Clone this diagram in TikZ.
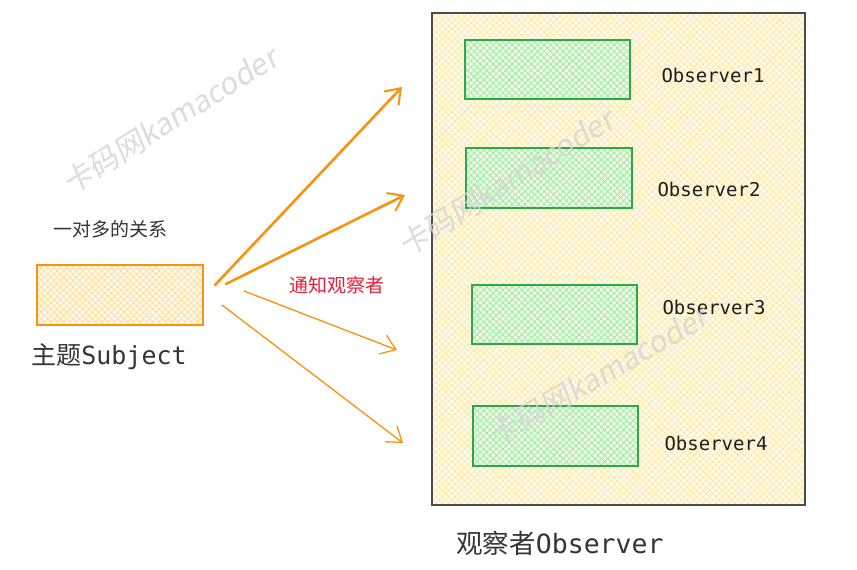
\documentclass[tikz,border=0pt]{standalone}
\usepackage{fontspec}
\newfontfamily\cjk{Noto Sans CJK SC}
\newfontfamily\mono{DejaVu Sans Mono}
\newfontfamily\wmfont[FakeSlant=0.15]{Noto Sans CJK SC}
\usetikzlibrary{arrows.meta,patterns.meta}
\definecolor{orangeline}{HTML}{F7930F}
\definecolor{subjfill}{HTML}{FFF9EA}
\definecolor{subjhatch}{HTML}{FFD98C}
\definecolor{contfill}{HTML}{FFFBEA}
\definecolor{conthatch}{HTML}{FCE59A}
\definecolor{greenline}{HTML}{2BA84A}
\definecolor{greenfill}{HTML}{EDFAE0}
\definecolor{greenhatch}{HTML}{8FE6A0}
\definecolor{textdark}{HTML}{1E1E1E}
\definecolor{notifyred}{HTML}{E8203A}
\definecolor{wmgray}{HTML}{D4D4D4}
\tikzset{
  hatch/.style 2 args={
    preaction={fill=#1},
    preaction={pattern={Lines[angle=45,distance=4.5pt,line width=0.6pt]},pattern color=#2},
    preaction={pattern={Lines[angle=-45,distance=4.5pt,line width=0.6pt]},pattern color=#2}},
  subjbox/.style={draw=orangeline,line width=1.6pt,hatch={subjfill}{subjhatch},
    inner sep=0pt,minimum width=166pt,minimum height=60pt},
  contbox/.style={draw=black!70,line width=1.2pt,hatch={contfill}{conthatch},
    inner sep=0pt,minimum width=373pt,minimum height=492pt},
  obsbox/.style={draw=greenline,line width=1.6pt,hatch={greenfill}{greenhatch},
    inner sep=0pt,minimum width=165pt,minimum height=59pt},
  obslabel/.style={font=\mono\fontsize{19}{22}\selectfont,text=textdark,inner sep=0pt},
  biglabel/.style={font=\fontsize{25}{29}\selectfont,text=textdark!90,inner sep=0pt},
  smalllabel/.style={font=\cjk\fontsize{19}{22}\selectfont,inner sep=0pt},
  thickarrow/.style={draw=orangeline,line width=2.6pt,line cap=round,
    -{Straight Barb[length=14pt,width=20pt,line width=2pt]}},
  thinarrow/.style={draw=orangeline,line width=1.3pt,line cap=round,
    -{Straight Barb[length=14pt,width=20pt,line width=1.3pt]}},
  watermark/.style={font=\wmfont\fontsize{30}{34}\selectfont,text=wmgray,opacity=0.8,inner sep=0pt}
}
\begin{document}
\begin{tikzpicture}[x=1pt,y=-1pt]
\useasboundingbox[fill=white] (0,0) rectangle (857,570);

% subject
\node[subjbox] (subj) at (120,295) {};
\node[smalllabel,text=textdark!90] (rel) at (110,229) {一对多的关系};
\node[biglabel] (subjlabel) at (109,357) {{\cjk 主题}{\mono Subject}};

% container
\node[contbox] (cont) at (618.5,259) {};
\node[obsbox] (o1) at (547.5,69.5) {};
\node[obsbox,minimum height=60pt,minimum width=166pt] (o2) at (549,178) {};
\node[obsbox] (o3) at (554.5,314.5) {};
\node[obsbox,minimum height=60pt] (o4) at (555.5,436) {};
\node[obslabel] (l1) at (713,75) {Observer1};
\node[obslabel] (l2) at (709,189) {Observer2};
\node[obslabel] (l3) at (714,307) {Observer3};
\node[obslabel] (l4) at (716,443) {Observer4};
\node[biglabel,font=\fontsize{26.5}{30}\selectfont] (contlabel) at (560,543) {{\cjk 观察者}{\mono Observer}};

% arrows
\coordinate (s1) at (215,285);
\coordinate (s2) at (226,284);
\coordinate (s3) at (244,291);
\coordinate (s4) at (222,305);
\coordinate (e1) at (402,87);
\coordinate (e2) at (405,195);
\coordinate (e3) at (397,350);
\coordinate (e4) at (403,443);
\draw[thickarrow] (s1) -- (e1);
\draw[thickarrow] (s2) -- (e2);
\draw[thinarrow] (s3) -- (e3);
\draw[thinarrow] (s4) -- (e4);
\node[smalllabel,text=notifyred] (notify) at (337,285) {通知观察者};

% watermarks
\node[watermark,rotate=32] (w1) at (170,120) {卡码网kamacoder};
\node[watermark,rotate=32] (w2) at (506,182) {卡码网kamacoder};
\node[watermark,rotate=30] (w3) at (598,376) {卡码网kamacoder};
\end{tikzpicture}
\end{document}
